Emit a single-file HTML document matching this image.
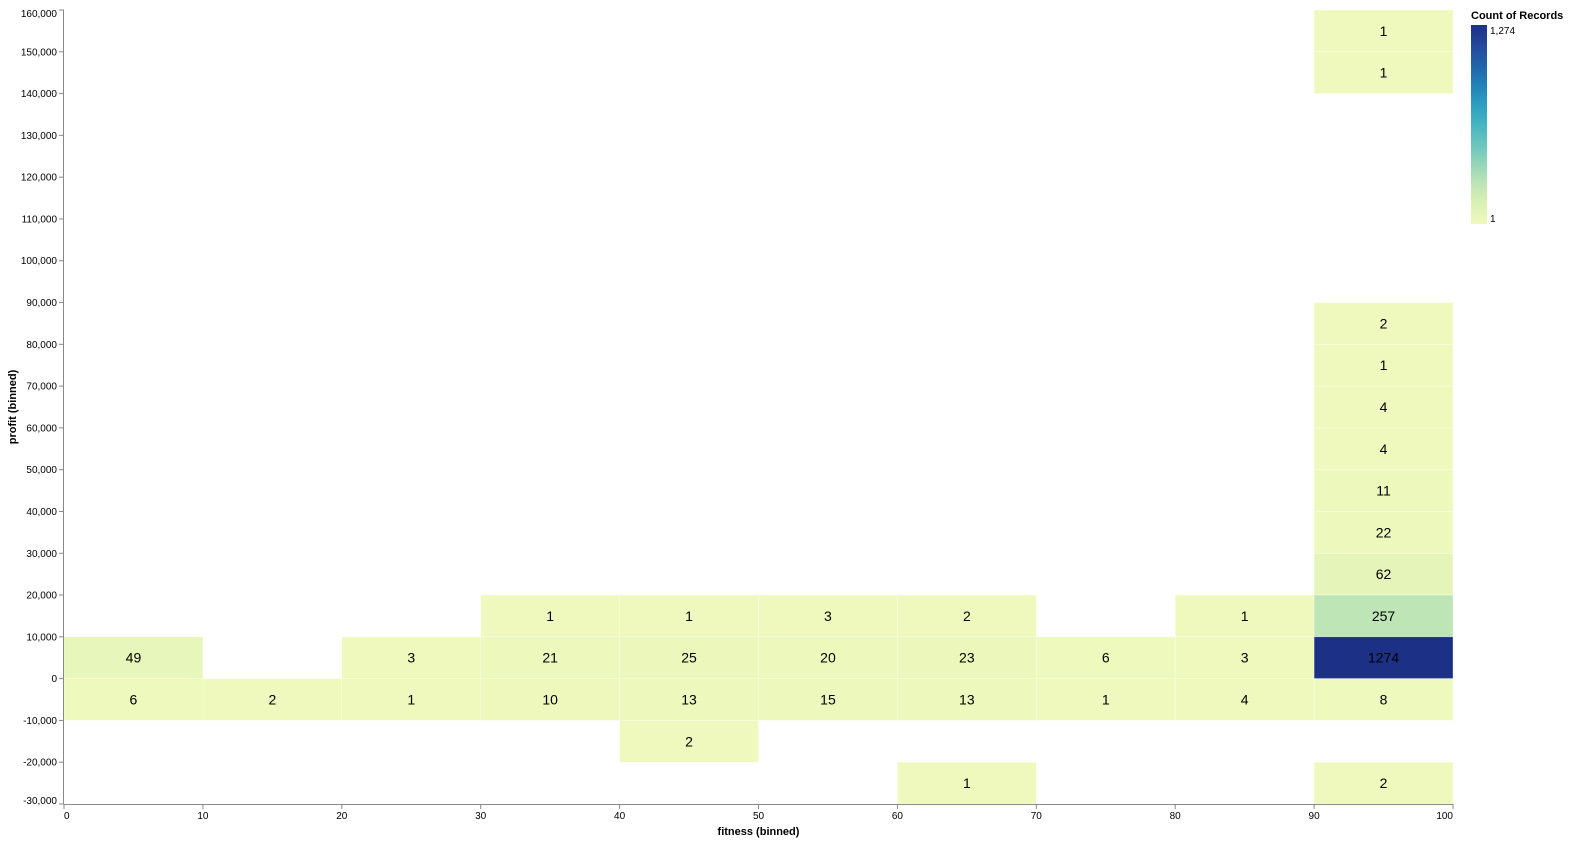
<!DOCTYPE html>
<html><head><meta charset="utf-8"><style>
html,body{margin:0;padding:0;background:#fff;font-family:"Liberation Sans",sans-serif;overflow:hidden;width:1580px;height:847px}
svg{display:block}
</style></head><body>
<svg id="chart" width="1580" height="847" xmlns="http://www.w3.org/2000/svg" font-family="Liberation Sans, sans-serif"></svg>
<script>
const xBins=[0,0,10,20,20,30,30,30,40,40,40,40,50,50,50,60,60,60,60,70,70,80,80,80,90,90,90,90,90,90,90,90,90,90,90,90,90];
const yBins=[0,-10,-10,0,-10,10,0,-10,10,0,-10,-20,10,0,-10,10,0,-10,-30,0,-10,10,0,-10,150,140,80,70,60,50,40,30,20,10,0,-10,-30];
const counts=[49,6,2,3,1,1,21,10,1,25,13,2,3,20,15,2,23,13,1,6,1,1,3,4,1,1,2,1,4,4,11,22,62,257,1274,8,2];
const xTicks=[0,10,20,30,40,50,60,70,80,90,100];
const yTicks=[-30000,-20000,-10000,0,10000,20000,30000,40000,50000,60000,70000,80000,90000,100000,110000,120000,130000,140000,150000,160000];
const NS="http://www.w3.org/2000/svg";
const svg=document.getElementById('chart');
const X0=64,X1=1453,Y0=804,Y1=10;
const xs=v=>X0+(v/100)*(X1-X0);
const ys=v=>Y0-((v+30000)/190000)*(Y0-Y1);
const stops=["#eff9bd","#dbf1b4","#bde5b5","#94d5b9","#69c5be","#45b4c2","#2c9ec0","#2182b8","#2163aa","#23479c","#1c3185"];
function hex(h){return [1,3,5].map(i=>parseInt(h.substr(i,2),16));}
function color(c){let t=(c-1)/(1274-1);t=Math.max(0,Math.min(1,t));const p=t*(stops.length-1);const i=Math.min(Math.floor(p),stops.length-2);const f=p-i;const a=hex(stops[i]),b=hex(stops[i+1]);return `rgb(${a.map((v,k)=>Math.round(v+(b[k]-v)*f)).join(',')})`;}
function el(tag,attrs,parent){const e=document.createElementNS(NS,tag);for(const k in attrs)e.setAttribute(k,attrs[k]);(parent||svg).appendChild(e);return e;}
for(let i=0;i<counts.length;i++){
  const x=xs(xBins[i]),w=xs(xBins[i]+10)-x,y=ys(yBins[i]*1000+10000),h=ys(yBins[i]*1000)-y;
  const r=el('rect',{x:x,y:y,width:w,height:h,fill:color(counts[i]),stroke:'#fff','stroke-width':0.5,'stroke-opacity':0.6});
  
  
  const t=el('text',{x:x+w/2,y:y+h/2+5,'text-anchor':'middle','font-size':14,fill:'#000'});
  t.textContent=counts[i];
  
  
}
const xa=el('g',{});
el('line',{x1:X0,x2:X1,y1:Y0+0.5,y2:Y0+0.5,stroke:'#888'},xa);
xTicks.forEach(v=>{const x=xs(v);el('line',{x1:x,x2:x,y1:Y0,y2:Y0+5,stroke:'#888'},xa);
  const t=el('text',{x:x,y:Y0+15,'text-anchor':v==0?'start':(v==100?'end':'middle'),'font-size':10,fill:'#000'},xa);t.textContent=v;
  });
const xt=el('text',{x:(X0+X1)/2,y:835,'text-anchor':'middle','font-size':11,'font-weight':'bold'},xa);xt.textContent='fitness (binned)';

const ya=el('g',{});
el('line',{x1:X0-0.5,x2:X0-0.5,y1:Y1,y2:Y0,stroke:'#888'},ya);
yTicks.forEach(v=>{const y=ys(v);el('line',{x1:X0-5,x2:X0,y1:y,y2:y,stroke:'#888'},ya);
  const t=el('text',{x:X0-7,y:v==160000?y+7:(v==-30000?y:y+3.5),'text-anchor':'end','font-size':10,fill:'#000'},ya);t.textContent=v.toLocaleString('en-US');
  });
const yt=el('text',{x:0,y:0,transform:`translate(16,${(Y0+Y1)/2}) rotate(-90)`,'text-anchor':'middle','font-size':11,'font-weight':'bold'},ya);yt.textContent='profit (binned)';

const lg=el('g',{});
const defs=el('defs',{});const gr=el('linearGradient',{id:'g',x1:0,y1:1,x2:0,y2:0},defs);
stops.forEach((s,i)=>el('stop',{offset:i/(stops.length-1),'stop-color':s},gr));
el('rect',{x:1471,y:25,width:16,height:199,fill:'url(#g)'},lg);
const lt=el('text',{x:1471,y:19,'font-size':11,'font-weight':'bold'},lg);lt.textContent='Count of Records';

const l1=el('text',{x:1490,y:34,'font-size':10},lg);l1.textContent='1,274';
const l2=el('text',{x:1490,y:222,'font-size':10},lg);l2.textContent='1';
</script>
</body></html>
